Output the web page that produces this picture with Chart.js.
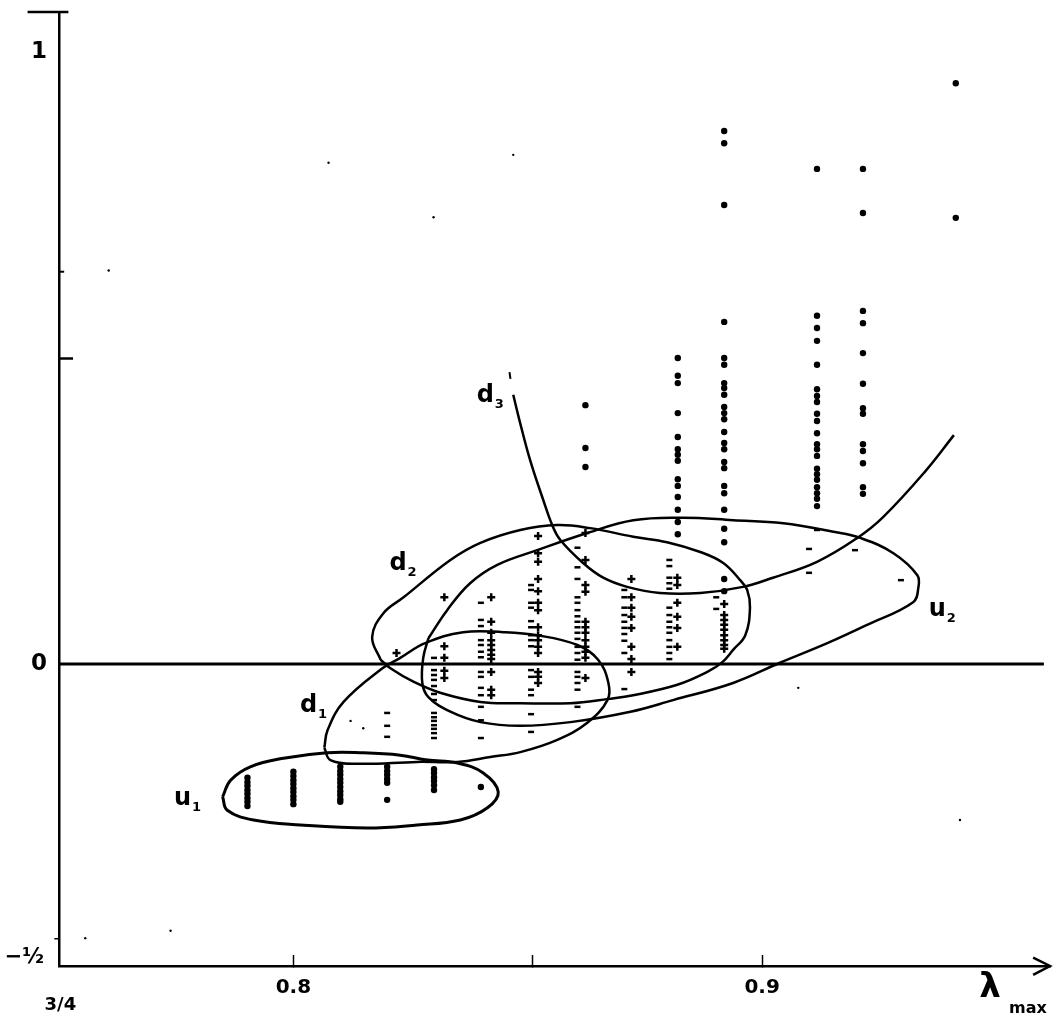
<!DOCTYPE html>
<html>
<head>
<meta charset="utf-8">
<title>lambda max</title>
<style>
  body { margin: 0; background: #fff; }
  canvas { display: block; }
</style>
<script src="https://cdn.jsdelivr.net/npm/chart.js@4"></script>
</head>
<body>
<canvas id="chart" width="1058" height="1021"></canvas>
<script>
// axis
const xMin = 0.75, xMax = 0.9614, yMin = -0.4935, yMax = 1.0654;
const xTicks = [0.8, 0.851, 0.9];
const yTicks = [1, 0.5, 0];
const xTickLabels = { 0.8: "0.8", 0.9: "0.9" };
const yTickLabels = { 1: "1", 0: "0" };

// round dots, one [x, values] per column
const dotCols = [
  [0.7902, [-0.186, -0.193, -0.199, -0.206, -0.212, -0.219, -0.225, -0.232]],
  [0.8, [-0.176, -0.183, -0.19, -0.196, -0.203, -0.209, -0.216, -0.222, -0.229]],
  [0.81, [-0.168, -0.175, -0.181, -0.188, -0.194, -0.201, -0.208, -0.214, -0.221, -0.225]],
  [0.82, [-0.168, -0.175, -0.181, -0.188, -0.194, -0.222]],
  [0.83, [-0.172, -0.178, -0.185, -0.191, -0.198, -0.206]],
  [0.84, [-0.201]],
  [0.8623, [0.423, 0.353, 0.322]],
  [0.882, [0.5, 0.471, 0.459, 0.41, 0.371, 0.351, 0.342, 0.332, 0.302, 0.291, 0.273, 0.252, 0.232, 0.212]],
  [0.8919, [0.871, 0.851, 0.75, 0.559, 0.5, 0.489, 0.459, 0.451, 0.44, 0.42, 0.41, 0.4, 0.379, 0.361, 0.351, 0.33, 0.32, 0.291, 0.279, 0.252, 0.221, 0.199, 0.139, 0.119]],
  [0.9117, [0.809, 0.569, 0.549, 0.528, 0.489, 0.449, 0.438, 0.428, 0.409, 0.397, 0.377, 0.359, 0.351, 0.34, 0.319, 0.31, 0.301, 0.289, 0.279, 0.27, 0.258]],
  [0.9215, [0.809, 0.737, 0.577, 0.557, 0.508, 0.458, 0.418, 0.409, 0.359, 0.348, 0.328, 0.289, 0.278]],
  [0.9413, [0.949, 0.729]],
];

// short flat marks
const dashCols = [
  [0.82, [-0.08, -0.101, -0.119]],
  [0.83, [0.01, -0.01, -0.018, -0.026, -0.036, -0.049, -0.059, -0.08, -0.087, -0.093, -0.1, -0.106, -0.113, -0.121]],
  [0.84, [0.1, 0.072, 0.062, 0.039, 0.031, 0.02, 0.011, -0.013, -0.021, -0.039, -0.051, -0.07, -0.092, -0.121]],
  [0.8507, [0.129, 0.121, 0.1, 0.092, 0.07, 0.06, 0.047, 0.039, 0.029, -0.01, -0.021, -0.042, -0.051, -0.082, -0.111]],
  [0.8606, [0.19, 0.158, 0.139, 0.109, 0.1, 0.088, 0.078, 0.069, 0.06, 0.051, 0.041, 0.028, 0.018, 0.007, -0.013, -0.021, -0.031, -0.042, -0.07]],
  [0.8706, [0.121, 0.109, 0.092, 0.08, 0.069, 0.059, 0.049, 0.038, 0.018, -0.041]],
  [0.8802, [0.17, 0.16, 0.141, 0.132, 0.123, 0.092, 0.08, 0.069, 0.06, 0.051, 0.039, 0.028, 0.018, 0.008]],
  [0.8902, [0.109, 0.09]],
  [0.91, [0.188, 0.149]],
  [0.9117, [0.219]],
  [0.9198, [0.186]],
  [0.9296, [0.137]],
];

// plus marks, just right of the flat ones
const plusCols = [
  [0.822, [0.018]],
  [0.8322, [0.109, 0.029, 0.01, -0.011, -0.023]],
  [0.8422, [0.109, 0.069, 0.051, 0.039, 0.031, 0.023, 0.015, 0.008, -0.013, -0.042, -0.051]],
  [0.8522, [0.209, 0.181, 0.167, 0.139, 0.119, 0.1, 0.088, 0.06, 0.047, 0.039, 0.028, 0.018, -0.013, -0.021, -0.031]],
  [0.8623, [0.214, 0.17, 0.129, 0.118, 0.069, 0.06, 0.051, 0.039, 0.028, 0.02, 0.01, -0.023]],
  [0.8721, [0.139, 0.109, 0.092, 0.077, 0.059, 0.028, 0.008, -0.013]],
  [0.8819, [0.141, 0.129, 0.1, 0.077, 0.059, 0.028]],
  [0.8919, [0.098, 0.08, 0.072, 0.064, 0.056, 0.047, 0.039, 0.031, 0.025]],
];

// scan specks
const speckX = [0.8075, 0.8469, 0.8299, 0.7606, 0.7401, 0.7556, 0.7738, 0.9077, 0.8122, 0.8149, 0.9422, 0.7465, 0.7396];
const speckY = [0.819, 0.832, 0.73, 0.643, 0.197, -0.448, -0.436, -0.039, -0.093, -0.105, -0.255, 1.054, -0.144];

// hand drawn outlines
const u1X = [0.7849, 0.7866, 0.7908, 0.7979, 0.8072, 0.8143, 0.8228, 0.8286, 0.835, 0.8405, 0.8437, 0.8414, 0.8356, 0.8264, 0.8158, 0.8015, 0.7915, 0.7859, 0.7849];
const u1Y = [-0.217, -0.19, -0.168, -0.154, -0.145, -0.145, -0.149, -0.157, -0.162, -0.178, -0.209, -0.235, -0.255, -0.263, -0.268, -0.263, -0.255, -0.239, -0.217];
const d1X = [0.8066, 0.8073, 0.8107, 0.819, 0.8228, 0.8281, 0.8362, 0.8448, 0.852, 0.8606, 0.865, 0.8672, 0.867, 0.8627, 0.8563, 0.8484, 0.842, 0.835, 0.8264, 0.8136, 0.8079, 0.8066];
const d1Y = [-0.137, -0.108, -0.062, -0.007, 0.01, 0.034, 0.052, 0.052, 0.047, 0.031, 0.007, -0.031, -0.059, -0.096, -0.124, -0.144, -0.152, -0.16, -0.16, -0.163, -0.157, -0.137];
const d2X = [0.8186, 0.8168, 0.8192, 0.8235, 0.8335, 0.8399, 0.8484, 0.8563, 0.8633, 0.8725, 0.8797, 0.8868, 0.8917, 0.8953, 0.8968, 0.8974, 0.8964, 0.8938, 0.8915, 0.8883, 0.8819, 0.8725, 0.8672, 0.8591, 0.8484, 0.8399, 0.8313, 0.8256, 0.8207, 0.8186];
const d2Y = [0.007, 0.044, 0.083, 0.109, 0.17, 0.198, 0.219, 0.227, 0.222, 0.208, 0.199, 0.183, 0.165, 0.137, 0.121, 0.092, 0.047, 0.023, 0.003, -0.013, -0.034, -0.051, -0.057, -0.064, -0.064, -0.062, -0.047, -0.029, -0.007, 0.007];
const u2X = [0.8288, 0.8328, 0.8377, 0.8435, 0.852, 0.8627, 0.8725, 0.8832, 0.8938, 0.9045, 0.9152, 0.9209, 0.928, 0.9331, 0.9333, 0.9322, 0.9224, 0.9139, 0.9038, 0.8938, 0.881, 0.8719, 0.8591, 0.8484, 0.8399, 0.8335, 0.8288, 0.8275, 0.8277, 0.8288];
const u2Y = [0.042, 0.088, 0.132, 0.162, 0.186, 0.214, 0.235, 0.239, 0.235, 0.23, 0.216, 0.206, 0.181, 0.145, 0.124, 0.101, 0.064, 0.034, 0.002, -0.031, -0.059, -0.078, -0.095, -0.101, -0.095, -0.078, -0.054, -0.031, 0.01, 0.042];
const d3X = [0.8469, 0.8482, 0.8505, 0.8533, 0.8552, 0.8569, 0.8618, 0.8661, 0.8712, 0.8782, 0.8868, 0.8959, 0.9023, 0.9117, 0.9203, 0.9258, 0.9347, 0.9409];
const d3Y = [0.44, 0.399, 0.333, 0.268, 0.227, 0.203, 0.165, 0.141, 0.126, 0.116, 0.116, 0.126, 0.141, 0.167, 0.206, 0.24, 0.314, 0.374];

// straight bits of the frame
const zeroX = [0.75, 0.9601];
const zeroY = [0, 0];
const topBarX = [0.7433, 0.752];
const topBarY = [1.0654, 1.0654];
const arrowX = [0.9578, 0.9614, 0.9578];
const arrowY = [-0.48, -0.4935, -0.508];
const d3StartX = [0.8461, 0.8463];
const d3StartY = [0.477, 0.466];
const notchHighX = [0.75, 0.7511];
const notchHighY = [0.641, 0.641];
const notchLowX = [0.749, 0.75];
const notchLowY = [-0.449, -0.449];

// curve names and axis notes
const curveNames = ["u", "d", "d", "d", "u"];
const curveSubs = ["1", "1", "2", "3", "2"];
const curveLabelX = [0.7774, 0.8043, 0.8234, 0.842, 0.9384];
const curveLabelY = [-0.224, -0.072, 0.16, 0.435, 0.085];
const noteTexts = ["3/4", "−½"];
const noteX = [0.7503, 0.7426];
const noteY = [-0.557, -0.48];

const zip = (xs, ys) => xs.map((x, i) => ({ x: x, y: ys[i] }));
const fromCols = (cols) =>
  cols.flatMap(([x, ys]) => ys.map((y) => ({ x: x, y: y })));

const outline = (xs, ys, width = 2.5) => ({
  data: zip(xs, ys),
  showLine: true,
  borderColor: "#000",
  borderWidth: width,
  tension: 0.4,
  pointRadius: 0,
  clip: false,
});

const straight = (xs, ys, width) => ({
  ...outline(xs, ys, width),
  tension: 0,
});

const marks = (cols, style, radius, width) => ({
  data: fromCols(cols),
  pointStyle: style,
  pointRadius: radius,
  borderColor: "#000",
  backgroundColor: "#000",
  borderWidth: width,
  showLine: false,
});

const notesPlugin = {
  id: "handNotes",
  afterDatasetsDraw: (chart) => {
    const { ctx, scales } = chart;
    const font = (size) => `bold ${size}px "DejaVu Sans"`;
    ctx.save();
    ctx.fillStyle = "#000";
    ctx.textBaseline = "middle";
    ctx.textAlign = "center";

    curveNames.forEach((name, i) => {
      const px = scales.x.getPixelForValue(curveLabelX[i]);
      const py = scales.y.getPixelForValue(curveLabelY[i]);
      ctx.font = font(24);
      ctx.fillText(name, px - 5, py - 2);
      ctx.font = font(13);
      ctx.fillText(curveSubs[i], px + 9, py + 7);
    });

    noteTexts.forEach((text, i) => {
      ctx.font = font(i === 0 ? 18 : 21);
      ctx.fillText(
        text,
        scales.x.getPixelForValue(noteX[i]),
        scales.y.getPixelForValue(noteY[i]),
      );
    });

    const lx = scales.x.getPixelForValue(0.9486);
    const ly = scales.y.getPixelForValue(-0.529);
    ctx.font = font(34);
    ctx.fillText("λ", lx, ly);
    ctx.font = font(16);
    ctx.fillText("max", lx + 38, ly + 21);
    ctx.restore();
  },
};

new Chart(document.getElementById("chart").getContext("2d"), {
  type: "scatter",
  data: {
    datasets: [
      marks(dotCols, "circle", 3.2, 0),
      marks(dashCols, "line", 3, 2.5),
      marks(plusCols, "cross", 4, 2.5),
      {
        data: zip(speckX, speckY),
        pointRadius: 1.2,
        backgroundColor: "#000",
        borderWidth: 0,
        clip: false,
      },
      outline(u1X, u1Y, 3),
      outline(d1X, d1Y),
      outline(d2X, d2Y),
      outline(u2X, u2Y),
      outline(d3X, d3Y),
      straight(zeroX, zeroY, 3),
      straight(topBarX, topBarY, 2.5),
      straight(arrowX, arrowY, 2.5),
      straight(d3StartX, d3StartY, 2),
      straight(notchHighX, notchHighY, 2),
      straight(notchLowX, notchLowY, 1.5),
    ],
  },
  options: {
    responsive: false,
    animation: false,
    layout: { padding: { top: 12, right: 8 } },
    plugins: { legend: { display: false }, tooltip: { enabled: false } },
    scales: {
      x: {
        type: "linear",
        min: xMin,
        max: xMax,
        afterFit: (scale) => {
          scale.height = 55;
          scale.paddingLeft = 0;
          scale.paddingRight = 0;
        },
        afterBuildTicks: (scale) => {
          scale.ticks = xTicks.map((value) => ({ value: value }));
        },
        border: { color: "#000", width: 2.5 },
        grid: { drawOnChartArea: false, color: "#000", tickLength: -11, tickWidth: 1.5 },
        ticks: {
          color: "#000",
          font: { family: "DejaVu Sans", size: 20, weight: "bold" },
          padding: 21,
          maxRotation: 0,
          callback: (value) => xTickLabels[value] || "",
        },
      },
      y: {
        type: "linear",
        min: yMin,
        max: yMax,
        afterFit: (scale) => {
          scale.width = 59;
          scale.paddingTop = 0;
          scale.paddingBottom = 0;
        },
        afterBuildTicks: (scale) => {
          scale.ticks = yTicks.map((value) => ({ value: value }));
        },
        border: { color: "#000", width: 2.5 },
        grid: {
          drawOnChartArea: false,
          color: "#000",
          tickLength: -14,
          tickWidth: (ctx) => (ctx.tick && ctx.tick.value === 0.5 ? 2.5 : 0),
        },
        ticks: {
          color: "#000",
          font: { family: "DejaVu Sans", size: 23, weight: "bold" },
          padding: 26,
          callback: (value) => yTickLabels[value] || "",
        },
      },
    },
  },
  plugins: [notesPlugin],
});
</script>
</body>
</html>
